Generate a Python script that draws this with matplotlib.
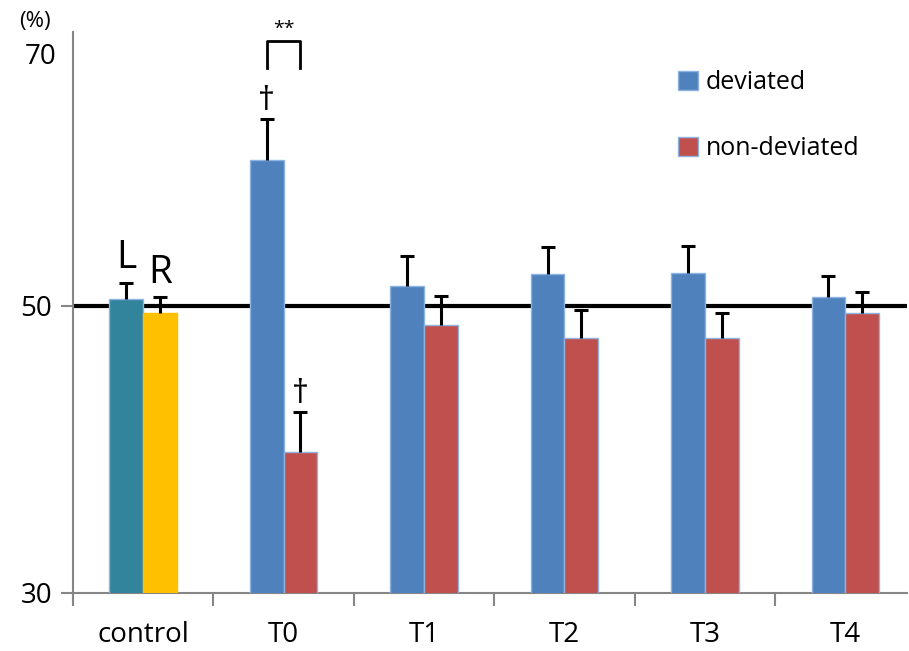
import numpy as np
import matplotlib.pyplot as plt

plt.rcParams['font.family'] = ['Open Sans', 'DejaVu Sans']

# data
groups = ['control', 'T0', 'T1', 'T2', 'T3', 'T4']
control_vals = [50.5, 49.5]          # L, R
control_err = [1.1, 1.1]
dev_vals = [60.2, 51.4, 52.2, 52.3, 50.6]
dev_err = [2.8, 2.1, 1.9, 1.9, 1.5]
nondev_vals = [39.8, 48.7, 47.8, 47.8, 49.5]
nondev_err = [2.8, 2.0, 1.9, 1.7, 1.5]

c_dev = '#4F81BD'
c_non = '#C0504D'
c_L = '#31849B'
c_R = '#FFC000'
edge = '#8DB3E2'

fig = plt.figure(figsize=(9.09, 6.51), dpi=100)
ax = fig.add_axes([0.0803, 0.0891, 0.9175, 0.862])

x = np.arange(len(groups))
w = 0.24


def upper_err(ax, xs, ys, es):
    xs = np.atleast_1d(xs)
    ys = np.atleast_1d(ys)
    es = np.atleast_1d(es)
    ax.vlines(xs, ys, ys + es, color='black', lw=2.2, zorder=4)
    ax.plot(xs, ys + es, ls='none', marker='_', ms=10, mew=2.2,
            color='black', zorder=4)


# control L / R
ax.bar(x[0] - w/2, control_vals[0], w, color=c_L, edgecolor=edge, lw=1, zorder=3)
ax.bar(x[0] + w/2, control_vals[1], w, color=c_R, edgecolor=c_R, lw=1, zorder=3)
upper_err(ax, [x[0] - w/2, x[0] + w/2], control_vals, control_err)

# T0..T4
xd = x[1:]
ax.bar(xd - w/2, dev_vals, w, color=c_dev, edgecolor=edge, lw=1, zorder=3,
       label='deviated')
ax.bar(xd + w/2, nondev_vals, w, color=c_non, edgecolor=edge, lw=1, zorder=3,
       label='non-deviated')
upper_err(ax, xd - w/2, dev_vals, dev_err)
upper_err(ax, xd + w/2, nondev_vals, nondev_err)

# 50% reference line
ax.axhline(50, color='black', lw=3, zorder=2)

ax.set_ylim(30, 69.1)
ax.set_xlim(-0.5, 5.44)
ax.set_yticks([30, 50])
ax.set_yticklabels(['30', '50'], fontsize=20)
ax.set_xticks(x)
ax.set_xticklabels(groups, fontsize=20)
ax.set_xticks(np.arange(-0.5, 5.5, 1), minor=True)
ax.tick_params(axis='x', which='major', length=0, pad=20)
ax.tick_params(axis='x', which='minor', length=9, color='#868686', width=1.5)
ax.tick_params(axis='y', length=9, color='#868686', width=1.5, pad=6)

for s in ['top', 'right']:
    ax.spines[s].set_visible(False)
for s in ['left', 'bottom']:
    ax.spines[s].set_color('#868686')
    ax.spines[s].set_linewidth(1.5)

# labels
fig.text(0.045, 0.913, '70', fontsize=20, ha='center', va='center')
fig.text(0.038, 0.967, '(%)', fontsize=16, ha='center', va='center')
ax.text(x[0] - w/2, control_vals[0] + control_err[0] + 0.4, 'L', fontsize=28,
        ha='center', va='bottom')
ax.text(x[0] + w/2, control_vals[1] + control_err[1] + 0.4, 'R', fontsize=28,
        ha='center', va='bottom')

# daggers
ax.text(xd[0] - w/2, dev_vals[0] + dev_err[0] + 0.1, '†', fontsize=24,
        ha='center', va='bottom')
ax.text(xd[0] + w/2, nondev_vals[0] + nondev_err[0] + 0.1, '†', fontsize=24,
        ha='center', va='bottom')

# significance bracket
yb0, yb1 = 66.6, 68.45
ax.plot([xd[0] - w/2, xd[0] - w/2, xd[0] + w/2, xd[0] + w/2],
        [yb0, yb1, yb1, yb0], color='black', lw=2, clip_on=False)
ax.text(xd[0], yb1 + 0.2, '**', fontsize=14, ha='center', va='bottom')

# legend
leg = ax.legend(loc='upper left', bbox_to_anchor=(0.699, 0.972), frameon=False,
                fontsize=18, handlelength=0.8, handleheight=0.8,
                handletextpad=0.3, labelspacing=1.65)

fig.savefig('out.png', dpi=100)
